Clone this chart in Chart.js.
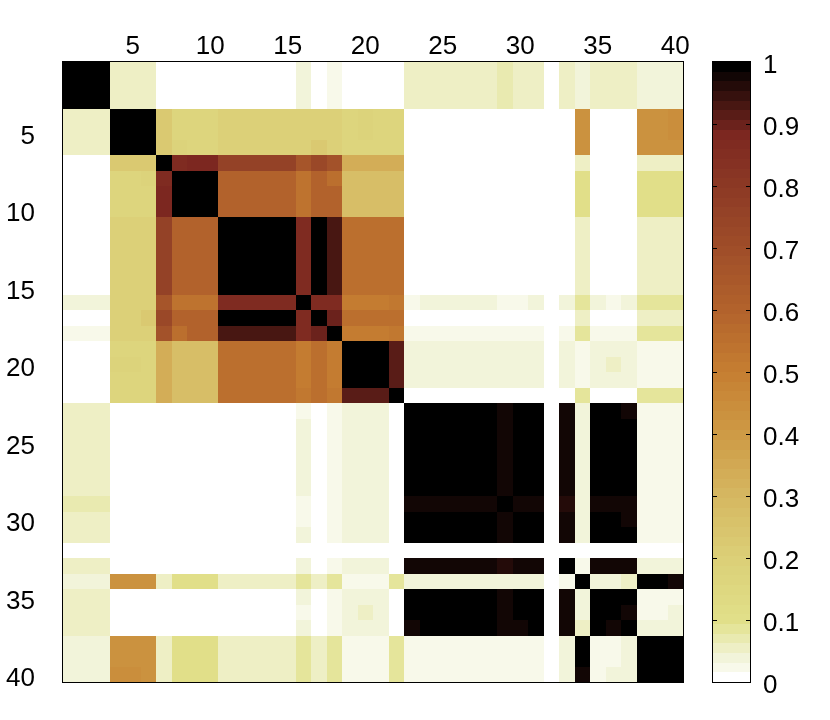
<!DOCTYPE html>
<html>
<head>
<meta charset="utf-8">
<script src="https://cdn.jsdelivr.net/npm/chart.js@4"></script>
<style>
  html, body { margin: 0; padding: 0; background: #fff; }
  canvas { display: block; }
</style>
</head>
<body>
<canvas id="myChart" width="830" height="720"></canvas>
<script>
// Axis tick labels (same on both axes) and colorbar ticks
const axisTicks = [5, 10, 15, 20, 25, 30, 35, 40];
const colorbarTicks = [0, 0.1, 0.2, 0.3, 0.4, 0.5, 0.6, 0.7, 0.8, 0.9, 1];

// Matrix rows (row 1 at the top, column 1 at the left)
const r01 = [1,1,1, .06,.06,.06, 0, 0,0,0, 0,0,0,0,0, .04, 0, .02, 0,0,0, 0, .06,.06,.06,.06,.06,.06, .07, .06,.06, 0, .06, .04, .06,.06,.06, .045,.045,.045];
const r02 = [1,1,1, .06,.06,.06, 0, 0,0,0, 0,0,0,0,0, .04, 0, .02, 0,0,0, 0, .06,.06,.06,.06,.06,.06, .07, .06,.06, 0, .06, .04, .06,.06,.06, .045,.045,.045];
const r03 = [1,1,1, .06,.06,.06, 0, 0,0,0, 0,0,0,0,0, .04, 0, .02, 0,0,0, 0, .06,.06,.06,.06,.06,.06, .07, .06,.06, 0, .06, .04, .06,.06,.06, .045,.045,.045];
const r04 = [.06,.06,.06, 1,1,1, .22, .16,.16,.16, .2,.2,.2,.2,.2, .2, .2, .2, .16,.18,.16, .16, 0,0,0,0,0,0, 0, 0,0, 0, 0, .43, 0,0,0, .43,.43,.45];
const r05 = [.06,.06,.06, 1,1,1, .22, .16,.16,.16, .2,.2,.2,.2,.2, .2, .2, .2, .16,.18,.16, .16, 0,0,0,0,0,0, 0, 0,0, 0, 0, .43, 0,0,0, .43,.43,.45];
const r06 = [.06,.06,.06, 1,1,1, .22, .18,.16,.16, .2,.2,.2,.2,.2, .2, .22, .2, .16,.16,.16, .16, 0,0,0,0,0,0, 0, 0,0, 0, 0, .43, 0,0,0, .43,.43,.43];
const r07 = [0,0,0, .22,.22,.22, 1, .86,.88,.88, .76,.76,.76,.76,.76, .66, .73, .68, .33,.33,.33, .34, 0,0,0,0,0,0, 0, 0,0, 0, 0, .06, 0,0,0, .06,.06,.06];
const r08 = [0,0,0, .16,.16,.18, .86, 1,1,1, .6,.6,.6,.6,.6, .54, .6, .56, .28,.28,.28, .28, 0,0,0,0,0,0, 0, 0,0, 0, 0, .1, 0,0,0, .1,.1,.1];
const r09 = [0,0,0, .16,.16,.16, .88, 1,1,1, .6,.6,.6,.6,.6, .54, .6, .6, .28,.28,.28, .28, 0,0,0,0,0,0, 0, 0,0, 0, 0, .1, 0,0,0, .1,.1,.1];
const r10 = [0,0,0, .16,.16,.16, .88, 1,1,1, .6,.6,.6,.6,.6, .54, .6, .6, .28,.28,.28, .28, 0,0,0,0,0,0, 0, 0,0, 0, 0, .1, 0,0,0, .1,.1,.1];
const r11 = [0,0,0, .2,.2,.2, .76, .6,.6,.6, 1,1,1,1,1, .87, .99, .93, .56,.56,.56, .56, 0,0,0,0,0,0, 0, 0,0, 0, 0, .06, 0,0,0, .06,.06,.06];
const r12 = [0,0,0, .2,.2,.2, .76, .6,.6,.6, 1,1,1,1,1, .87, .99, .93, .56,.56,.56, .56, 0,0,0,0,0,0, 0, 0,0, 0, 0, .06, 0,0,0, .06,.06,.06];
const r13 = [0,0,0, .2,.2,.2, .76, .6,.6,.6, 1,1,1,1,1, .87, .99, .93, .56,.56,.56, .56, 0,0,0,0,0,0, 0, 0,0, 0, 0, .06, 0,0,0, .06,.06,.06];
const r14 = [0,0,0, .2,.2,.2, .76, .6,.6,.6, 1,1,1,1,1, .87, .99, .93, .56,.56,.56, .56, 0,0,0,0,0,0, 0, 0,0, 0, 0, .06, 0,0,0, .06,.06,.06];
const r15 = [0,0,0, .2,.2,.2, .76, .6,.6,.6, 1,1,1,1,1, .87, .99, .93, .56,.56,.56, .56, 0,0,0,0,0,0, 0, 0,0, 0, 0, .06, 0,0,0, .06,.06,.06];
const r16 = [.04,.04,.04, .2,.2,.2, .66, .54,.54,.54, .87,.87,.87,.87,.87, 1, .86, .87, .5,.5,.5, .53, .02,.04,.04,.04,.04,.04, .02, .02,.04, 0, .04, .09, .04,.02,.04, .09,.09,.09];
const r17 = [0,0,0, .2,.2,.22, .73, .6,.6,.6, .99,.99,.99,.99,.99, .86, 1, .9, .56,.56,.56, .56, 0,0,0,0,0,0, 0, 0,0, 0, 0, .06, 0,0,0, .06,.06,.06];
const r18 = [.02,.02,.02, .2,.2,.2, .68, .56,.6,.6, .93,.93,.93,.93,.93, .87, .9, 1, .5,.5,.5, .53, .02,.02,.02,.02,.02,.02, .02, .02,.02, 0, .02, .09, .02,.02,.02, .09,.09,.09];
const r19 = [0,0,0, .16,.16,.16, .33, .28,.28,.28, .56,.56,.56,.56,.56, .5, .56, .5, 1,1,1, .92, .04,.04,.04,.04,.04,.04, .04, .04,.04, 0, .04, .02, .04,.04,.04, .02,.02,.02];
const r20 = [0,0,0, .18,.18,.16, .33, .28,.28,.28, .56,.56,.56,.56,.56, .5, .56, .5, 1,1,1, .92, .04,.04,.04,.04,.04,.04, .04, .04,.04, 0, .04, .02, .04,.06,.04, .02,.02,.02];
const r21 = [0,0,0, .16,.16,.16, .33, .28,.28,.28, .56,.56,.56,.56,.56, .5, .56, .5, 1,1,1, .92, .04,.04,.04,.04,.04,.04, .04, .04,.04, 0, .04, .02, .04,.04,.04, .02,.02,.02];
const r22 = [0,0,0, .16,.16,.16, .34, .28,.28,.28, .56,.56,.56,.56,.56, .53, .56, .53, .92,.92,.92, 1, 0,0,0,0,0,0, 0, 0,0, 0, 0, .09, 0,0,0, .09,.09,.09];
const r23 = [.06,.06,.06, 0,0,0, 0, 0,0,0, 0,0,0,0,0, .02, 0, .02, .04,.04,.04, 0, 1,1,1,1,1,1, .98, 1,1, 0, .98, .04, 1,1,.98, .02,.02,.02];
const r24 = [.06,.06,.06, 0,0,0, 0, 0,0,0, 0,0,0,0,0, .04, 0, .02, .04,.04,.04, 0, 1,1,1,1,1,1, .98, 1,1, 0, .98, .04, 1,1,1, .02,.02,.02];
const r25 = [.06,.06,.06, 0,0,0, 0, 0,0,0, 0,0,0,0,0, .04, 0, .02, .04,.04,.04, 0, 1,1,1,1,1,1, .98, 1,1, 0, .98, .04, 1,1,1, .02,.02,.02];
const r26 = [.06,.06,.06, 0,0,0, 0, 0,0,0, 0,0,0,0,0, .04, 0, .02, .04,.04,.04, 0, 1,1,1,1,1,1, .98, 1,1, 0, .98, .04, 1,1,1, .02,.02,.02];
const r27 = [.06,.06,.06, 0,0,0, 0, 0,0,0, 0,0,0,0,0, .04, 0, .02, .04,.04,.04, 0, 1,1,1,1,1,1, .98, 1,1, 0, .98, .04, 1,1,1, .02,.02,.02];
const r28 = [.06,.06,.06, 0,0,0, 0, 0,0,0, 0,0,0,0,0, .04, 0, .02, .04,.04,.04, 0, 1,1,1,1,1,1, .98, 1,1, 0, .98, .04, 1,1,1, .02,.02,.02];
const r29 = [.07,.07,.07, 0,0,0, 0, 0,0,0, 0,0,0,0,0, .02, 0, .02, .04,.04,.04, 0, .98,.98,.98,.98,.98,.98, 1, .98,.98, 0, .96, .04, .98,.98,.98, .02,.02,.02];
const r30 = [.06,.06,.06, 0,0,0, 0, 0,0,0, 0,0,0,0,0, .02, 0, .02, .04,.04,.04, 0, 1,1,1,1,1,1, .98, 1,1, 0, .98, .04, 1,1,.98, .02,.02,.02];
const r31 = [.06,.06,.06, 0,0,0, 0, 0,0,0, 0,0,0,0,0, .04, 0, .02, .04,.04,.04, 0, 1,1,1,1,1,1, .98, 1,1, 0, .98, .04, 1,1,1, .02,.02,.02];
const r32 = [0,0,0, 0,0,0, 0, 0,0,0, 0,0,0,0,0, 0, 0, 0, 0,0,0, 0, 0,0,0,0,0,0, 0, 0,0, 0, 0, 0, 0,0,0, 0,0,0];
const r33 = [.06,.06,.06, 0,0,0, 0, 0,0,0, 0,0,0,0,0, .04, 0, .02, .04,.04,.04, 0, .98,.98,.98,.98,.98,.98, .96, .98,.98, 0, 1, .02, .98,.98,.98, .04,.04,.04];
const r34 = [.04,.04,.04, .43,.43,.43, .06, .1,.1,.1, .06,.06,.06,.06,.06, .09, .06, .09, .02,.02,.02, .09, .04,.04,.04,.04,.04,.04, .04, .04,.04, 0, .02, 1, .04,.04,.06, .99,.99,.98];
const r35 = [.06,.06,.06, 0,0,0, 0, 0,0,0, 0,0,0,0,0, .04, 0, .02, .04,.04,.04, 0, 1,1,1,1,1,1, .98, 1,1, 0, .98, .04, 1,1,1, .02,.02,.02];
const r36 = [.06,.06,.06, 0,0,0, 0, 0,0,0, 0,0,0,0,0, .02, 0, .02, .04,.06,.04, 0, 1,1,1,1,1,1, .98, 1,1, 0, .98, .04, 1,1,.98, .02,.02,.04];
const r37 = [.06,.06,.06, 0,0,0, 0, 0,0,0, 0,0,0,0,0, .04, 0, .02, .04,.04,.04, 0, .98,1,1,1,1,1, .98, .98,1, 0, .98, .06, 1,.98,1, .04,.04,.04];
const r38 = [.045,.045,.045, .43,.43,.43, .06, .1,.1,.1, .06,.06,.06,.06,.06, .09, .06, .09, .02,.02,.02, .09, .02,.02,.02,.02,.02,.02, .02, .02,.02, 0, .04, .99, .02,.02,.04, 1,1,1];
const r39 = [.045,.045,.045, .43,.43,.43, .06, .1,.1,.1, .06,.06,.06,.06,.06, .09, .06, .09, .02,.02,.02, .09, .02,.02,.02,.02,.02,.02, .02, .02,.02, 0, .04, .99, .02,.02,.04, 1,1,1];
const r40 = [.045,.045,.045, .45,.45,.43, .06, .1,.1,.1, .06,.06,.06,.06,.06, .09, .06, .09, .02,.02,.02, .09, .02,.02,.02,.02,.02,.02, .02, .02,.02, 0, .04, .98, .02,.04,.04, 1,1,1];

const matrix = [r01, r02, r03, r04, r05, r06, r07, r08, r09, r10,
                r11, r12, r13, r14, r15, r16, r17, r18, r19, r20,
                r21, r22, r23, r24, r25, r26, r27, r28, r29, r30,
                r31, r32, r33, r34, r35, r36, r37, r38, r39, r40];

// Colormap: white -> yellow -> orange -> dark red -> black, 64 levels
const cmapStops = [0, 1/63, 2/63, 3/63, 4/63, 5/63, 6/63, 0.2, 0.3, 0.4, 0.5, 0.6, 0.7, 0.8, 0.89, 1];
const cmapColors = ['#ffffff', '#f8f9ea', '#f2f4da', '#eeefc5', '#e9eab0', '#e5e59b', '#e1df89', '#dbcf76',
                    '#d5b660', '#ce9a45', '#c57e31', '#b3632c', '#a04e29', '#8d3a25', '#7c2720', '#000000'];
const nLevels = 64;

function hexToRgb(h) {
    return [parseInt(h.slice(1, 3), 16), parseInt(h.slice(3, 5), 16), parseInt(h.slice(5, 7), 16)];
}

function cmap(t) {
    for (let i = 1; i < cmapStops.length; i++) {
        if (t <= cmapStops[i]) {
            const f = (t - cmapStops[i - 1]) / (cmapStops[i] - cmapStops[i - 1]);
            const a = hexToRgb(cmapColors[i - 1]), b = hexToRgb(cmapColors[i]);
            return 'rgb(' + a.map((c, k) => Math.round(c + (b[k] - c) * f)).join(',') + ')';
        }
    }
    return cmapColors[cmapColors.length - 1];
}

function levelColor(k) {
    return cmap(k / (nLevels - 1));
}

function valueColor(v) {
    const k = Math.max(0, Math.min(nLevels - 1, Math.floor(v * nLevels)));
    return levelColor(k);
}

// Build scatter points from the matrix
const cells = [];
matrix.forEach((row, i) => {
    row.forEach((v, j) => {
        cells.push({x: j + 1, y: i + 1, v: v});
    });
});

// Drop the label padding Chart.js reserves, so the plot box lands where it should
function noPadding(scale) {
    scale.paddingTop = 0;
    scale.paddingBottom = 0;
    scale.paddingLeft = 0;
    scale.paddingRight = 0;
}

const heatmapPlugin = {
    id: 'heatmap',
    beforeDatasetsDraw(chart) {
        const ctx = chart.ctx;
        const area = chart.chartArea;
        const xs = chart.scales.x;
        const ys = chart.scales.y;
        ctx.save();
        chart.data.datasets[0].data.forEach(p => {
            const x0 = Math.round(xs.getPixelForValue(p.x - 0.5));
            const x1 = Math.round(xs.getPixelForValue(p.x + 0.5));
            const y0 = Math.round(ys.getPixelForValue(p.y - 0.5));
            const y1 = Math.round(ys.getPixelForValue(p.y + 0.5));
            ctx.fillStyle = valueColor(p.v);
            ctx.fillRect(x0, Math.min(y0, y1), x1 - x0, Math.abs(y1 - y0));
        });

        // axes box
        ctx.strokeStyle = '#000';
        ctx.lineWidth = 1;
        ctx.strokeRect(area.left - 0.5, area.top - 0.5, area.width + 1, area.height + 1);

        // colorbar
        const cb = chart.scales.cb;
        const bx0 = cb.left + 30;
        const bx1 = cb.left + 67;
        for (let k = 0; k < nLevels; k++) {
            const ya = Math.round(cb.getPixelForValue(k / nLevels));
            const yb = Math.round(cb.getPixelForValue((k + 1) / nLevels));
            ctx.fillStyle = levelColor(k);
            ctx.fillRect(bx0, yb, bx1 - bx0, ya - yb);
        }
        const top = cb.getPixelForValue(1);
        const bottom = cb.getPixelForValue(0);
        ctx.strokeRect(bx0 - 0.5, Math.round(top) - 0.5, bx1 - bx0 + 1, Math.round(bottom - top) + 1);
        ctx.beginPath();
        cb.ticks.forEach(t => {
            const y = Math.round(cb.getPixelForValue(t.value)) + 0.5;
            ctx.moveTo(bx0, y);
            ctx.lineTo(bx0 + 4, y);
            ctx.moveTo(bx1 - 4, y);
            ctx.lineTo(bx1, y);
        });
        ctx.stroke();
        ctx.restore();
    }
};

const tickFont = {family: '"Liberation Sans", Arial, Helvetica, sans-serif', size: 26};

new Chart(document.getElementById('myChart'), {
    type: 'scatter',
    data: {
        datasets: [{
            data: cells,
            pointRadius: 0,
            pointHoverRadius: 0
        }]
    },
    options: {
        responsive: false,
        animation: false,
        devicePixelRatio: 1,
        events: [],
        layout: {
            autoPadding: false,
            padding: {left: 0, right: 0, top: 0, bottom: 38}
        },
        plugins: {
            legend: {display: false},
            tooltip: {enabled: false}
        },
        scales: {
            x: {
                type: 'linear',
                position: 'top',
                min: 0.5,
                max: 40.5,
                grid: {display: false},
                border: {display: false},
                ticks: {font: tickFont, color: '#000', padding: -8, maxRotation: 0},
                afterBuildTicks: scale => {
                    scale.ticks = axisTicks.map(v => ({value: v}));
                },
                afterFit: scale => {
                    scale.height = 62;
                    noPadding(scale);
                }
            },
            y: {
                type: 'linear',
                position: 'left',
                reverse: true,
                min: 0.5,
                max: 40.5,
                grid: {display: false},
                border: {display: false},
                ticks: {font: tickFont, color: '#000', padding: 20, labelOffset: 5},
                afterBuildTicks: scale => {
                    scale.ticks = axisTicks.map(v => ({value: v}));
                },
                afterFit: scale => {
                    scale.width = 63;
                    noPadding(scale);
                }
            },
            cb: {
                type: 'linear',
                position: 'right',
                min: 0,
                max: 1,
                grid: {display: false},
                border: {display: false},
                ticks: {
                    font: tickFont,
                    color: '#000',
                    padding: 72,
                    labelOffset: 4,
                    callback: v => String(Math.round(v * 10) / 10)
                },
                afterBuildTicks: scale => {
                    scale.ticks = colorbarTicks.map(v => ({value: v}));
                },
                afterFit: scale => {
                    scale.width = 147;
                    noPadding(scale);
                }
            }
        }
    },
    plugins: [heatmapPlugin]
});
</script>
</body>
</html>
